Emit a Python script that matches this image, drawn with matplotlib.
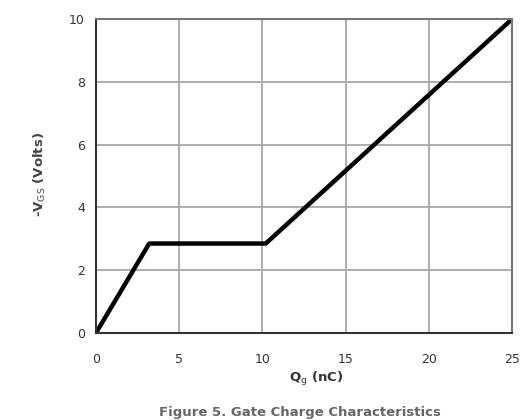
import matplotlib.pyplot as plt

qg = [0, 3.2, 10.2, 25]
vgs = [0, 2.85, 2.85, 10]

xticks = [0, 5, 10, 15, 20, 25]
yticks = [0, 2, 4, 6, 8, 10]

fig = plt.figure(figsize=(5.27, 4.2), dpi=100)
ax = fig.add_axes([0.182, 0.207, 0.79, 0.748])

ax.plot(qg, vgs, '-', color='black', linewidth=3.2, solid_capstyle='round')
ax.set_xlim(0, 25)
ax.set_ylim(0, 10)
ax.set_xticks(xticks)
ax.set_yticks(yticks)
ax.grid(True, color='#a8a8a8', linewidth=1.3)
ax.set_axisbelow(True)
for s in ax.spines.values():
    s.set_color('#777777')
    s.set_linewidth(1.5)
ax.spines['left'].set_color('#333333')
ax.spines['bottom'].set_color('#333333')
ax.tick_params(length=0, labelsize=9, colors='#333333')
ax.tick_params(axis='x', pad=14)
ax.tick_params(axis='y', pad=8)

fig.text(0.076, 0.585, r'-V$_{\mathrm{GS}}$ (Volts)', rotation=90, ha='center', va='center',
         fontsize=9.5, fontweight='bold', color='#444444')
fig.text(0.6, 0.097, r'Q$_{\mathrm{g}}$ (nC)', ha='center', va='center',
         fontsize=9.5, fontweight='bold', color='#333333')
fig.text(0.57, 0.003, 'Figure 5. Gate Charge Characteristics', ha='center', va='bottom',
         fontsize=9.5, fontweight='bold', color='#666666')

plt.savefig('out.png', dpi=100)
